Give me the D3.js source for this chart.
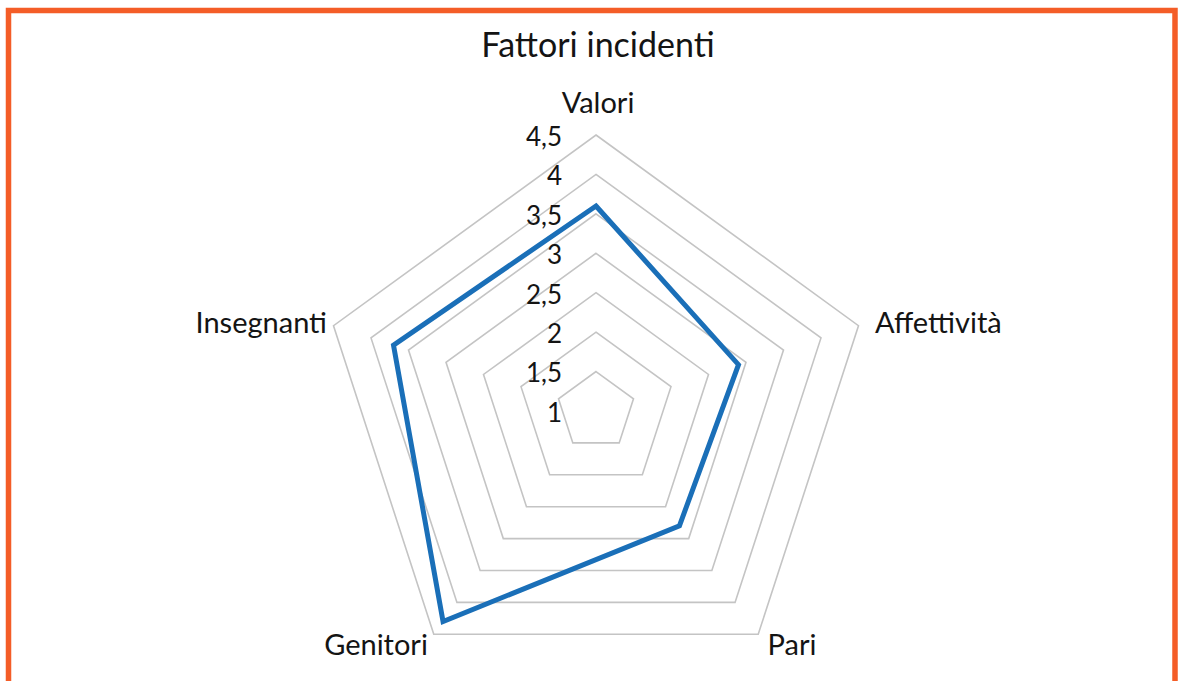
<!DOCTYPE html>
<meta charset='utf-8'>
<style>
  body { margin: 0; background: #fff; }
  text { font-family: Lato, 'Open Sans', sans-serif; fill: #141414; }
</style>
<body>
<div class="chart"></div>
<script src='https://cdn.jsdelivr.net/npm/d3@7'></script>
<script>

var categories = ['Valori', 'Affettività', 'Pari', 'Genitori', 'Insegnanti'];
var values = [3.6, 2.9, 2.8, 4.3, 3.7];
var tickValues = [1, 1.5, 2, 2.5, 3, 3.5, 4, 4.5];

var width = 1178, height = 681,
    cx = 596, cy = 411, radius = 276;

var it = d3.formatLocale({decimal: ',', thousands: '.', grouping: [3], currency: ['', '€']});
var fmt = it.format('~g');

var svg = d3.select('.chart')
  .append('svg')
  .attr('width', width)
  .attr('height', height);

// orange frame (open at the bottom)
svg.append('path')
  .attr('d', 'M8.5,' + height + 'V10.5H1175' + 'V' + height)
  .attr('fill', 'none')
  .attr('stroke', '#f45d27')
  .attr('stroke-width', 5.5);

svg.append('text')
  .attr('x', 598)
  .attr('y', 57)
  .attr('text-anchor', 'middle')
  .style('font-size', '34px')
  .text('Fattori incidenti');

var r = d3.scaleLinear()
  .domain([1, 4.5])
  .range([0, radius]);

var angle = d3.scaleBand()
  .domain(categories)
  .range([0, 2 * Math.PI])
  .align(0).paddingInner(0).paddingOuter(0);

function pt(cat, v) {
  var a = angle(cat);
  return [cx + r(v) * Math.sin(a), cy - r(v) * Math.cos(a)];
}

var g = svg.append('g');

// pentagon gridlines
g.selectAll('.grid')
  .data(tickValues.slice(1))
  .enter().append('polygon')
  .attr('class', 'grid')
  .attr('points', function(t) {
    return categories.map(function(c) { return pt(c, t).join(','); }).join(' ');
  })
  .attr('fill', 'none')
  .attr('stroke', '#c4c4c4')
  .attr('stroke-width', 1.6);

// tick labels
g.selectAll('.tick')
  .data(tickValues)
  .enter().append('text')
  .attr('class', 'tick')
  .attr('x', cx - 34)
  .attr('y', function(t) { return cy - r(t); })
  .attr('dy', '0.42em')
  .attr('text-anchor', 'end')
  .style('font-size', '26px')
  .text(function(t) { return fmt(t); });

// series
var line = d3.line().curve(d3.curveLinearClosed);
g.append('path')
  .datum(categories.map(function(c, i) { return pt(c, values[i]); }))
  .attr('d', line)
  .attr('fill', 'none')
  .attr('stroke', '#1a6fb8')
  .attr('stroke-width', 5)
  .attr('stroke-linejoin', 'miter');

// category labels
var labelPos = {
  'Valori':      {x: 598, y: 113, anchor: 'middle'},
  'Affettività': {x: 875, y: 333, anchor: 'start'},
  'Pari':        {x: 792, y: 655, anchor: 'middle'},
  'Genitori':    {x: 376, y: 655, anchor: 'middle'},
  'Insegnanti':  {x: 327, y: 333, anchor: 'end'}
};

g.selectAll('.cat')
  .data(categories)
  .enter().append('text')
  .attr('class', 'cat')
  .attr('x', function(c) { return labelPos[c].x; })
  .attr('y', function(c) { return labelPos[c].y; })
  .attr('text-anchor', function(c) { return labelPos[c].anchor; })
  .style('font-size', '29px')
  .text(function(c) { return c; });

</script>
</body>
